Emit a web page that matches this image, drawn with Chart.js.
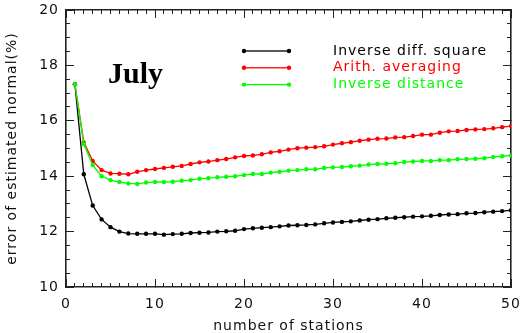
<!DOCTYPE html>
<html>
<head>
<meta charset="utf-8">
<script src="https://cdn.jsdelivr.net/npm/chart.js@4.4.1/dist/chart.umd.min.js"></script>
<style>
html, body { margin: 0; padding: 0; background: #fff; }
</style>
</head>
<body>
<canvas id="myChart" width="521" height="333"></canvas>
<script>
// number of stations used
var stations = [];
for (var n = 1; n <= 50; n++) stations.push(n);

// error of estimated normal (%)
var inverseDiffSquare = [17.32, 14.07, 12.94, 12.44, 12.16, 12.00, 11.93, 11.92, 11.92, 11.92,
  11.89, 11.91, 11.92, 11.95, 11.96, 11.97, 12.00, 12.01, 12.03, 12.09,
  12.12, 12.14, 12.16, 12.19, 12.22, 12.23, 12.24, 12.26, 12.30, 12.33,
  12.35, 12.37, 12.40, 12.43, 12.45, 12.48, 12.50, 12.52, 12.54, 12.55,
  12.57, 12.60, 12.62, 12.63, 12.66, 12.67, 12.70, 12.72, 12.74, 12.77];
var arithAveraging = [17.32, 15.22, 14.55, 14.22, 14.10, 14.09, 14.07, 14.16, 14.22, 14.26,
  14.30, 14.34, 14.37, 14.44, 14.50, 14.53, 14.58, 14.62, 14.68, 14.73,
  14.75, 14.79, 14.86, 14.90, 14.96, 15.01, 15.03, 15.05, 15.08, 15.14,
  15.19, 15.23, 15.28, 15.32, 15.35, 15.36, 15.40, 15.41, 15.45, 15.50,
  15.50, 15.57, 15.62, 15.63, 15.67, 15.69, 15.70, 15.73, 15.77, 15.81];
var inverseDistance = [17.32, 15.16, 14.40, 14.00, 13.86, 13.79, 13.74, 13.72, 13.77, 13.79,
  13.79, 13.80, 13.84, 13.86, 13.91, 13.93, 13.96, 13.98, 14.00, 14.04,
  14.08, 14.08, 14.13, 14.16, 14.20, 14.22, 14.25, 14.25, 14.30, 14.32,
  14.33, 14.36, 14.38, 14.42, 14.44, 14.45, 14.47, 14.51, 14.53, 14.55,
  14.55, 14.58, 14.58, 14.61, 14.62, 14.63, 14.65, 14.69, 14.72, 14.75];

var seriesLabels = ['Inverse diff. square', 'Arith. averaging', 'Inverse distance'];
var seriesColors = ['#000000', '#ff0000', '#00ff00'];
var xTicks = [0, 10, 20, 30, 40, 50];
var yTicks = [10, 12, 14, 16, 18, 20];
var monthLabel = 'July';

var textFont = 'DejaVu Sans';
var frameColor = '#222222';

function toPoints(values) {
  return stations.map(function (s, i) { return { x: s, y: values[i] }; });
}

var allSeries = [inverseDiffSquare, arithAveraging, inverseDistance];
var datasets = allSeries.map(function (vals, i) {
  return {
    label: seriesLabels[i],
    data: toPoints(vals),
    borderColor: seriesColors[i],
    backgroundColor: seriesColors[i],
    borderWidth: 1.3,
    pointRadius: 2.2,
    pointBorderWidth: 0,
    pointBackgroundColor: seriesColors[i],
    tension: 0,
    order: 2 - i
  };
});

// one side of the IDL style box: border line plus inward tick marks (negative tick length)
function sideAxis(axis, position, min, max, step, tickLen, showBorder, weight) {
  return {
    type: 'linear',
    axis: axis,
    position: position,
    min: min,
    max: max,
    weight: weight,
    afterBuildTicks: function (s) {
      var t = [];
      var count = Math.round((max - min) / step);
      for (var i = 0; i <= count; i++) t.push({ value: min + i * step });
      s.ticks = t;
    },
    afterFit: function (s) {
      if (axis === 'x') s.height = 0; else s.width = 0;
      s.paddingLeft = 0; s.paddingRight = 0; s.paddingTop = 0; s.paddingBottom = 0;
    },
    grid: { display: true, drawOnChartArea: false, drawTicks: true, tickLength: tickLen,
            tickColor: frameColor, tickWidth: 1 },
    border: { display: showBorder, color: frameColor, width: 1.6 },
    ticks: { display: false }
  };
}

var labelPlugin = {
  id: 'monthlegend',
  beforeDraw: function (chart) {
    chart.ctx.letterSpacing = '1px';
  },
  afterDraw: function (chart) {
    var ctx = chart.ctx;
    ctx.save();
    // month label
    ctx.letterSpacing = '0px';
    ctx.fillStyle = '#000';
    ctx.font = 'bold 30px "Liberation Serif"';
    ctx.textBaseline = 'alphabetic';
    ctx.textAlign = 'left';
    ctx.fillText(monthLabel, 108, 83);
    // legend
    ctx.letterSpacing = '1px';
    ctx.font = '14px "' + textFont + '"';
    ctx.textBaseline = 'middle';
    chart.data.datasets.forEach(function (ds, i) {
      var ly = 51 + i * 16.8;
      ctx.fillStyle = ds.borderColor;
      ctx.fillRect(244, ly - 0.65, 45, 1.3);
      [244, 289].forEach(function (cx) {
        ctx.beginPath();
        ctx.arc(cx, ly, 2.2, 0, Math.PI * 2);
        ctx.fill();
      });
      ctx.fillText(ds.label, 333, ly);
    });
    ctx.restore();
    ctx.letterSpacing = '0px';
  }
};

var tickFont = { family: textFont, size: 14 };

new Chart(document.getElementById('myChart'), {
  type: 'line',
  data: { datasets: datasets },
  options: {
    responsive: false,
    animation: false,
    devicePixelRatio: 1,
    layout: { padding: { top: 10, right: 10, left: 0, bottom: 0 } },
    plugins: { legend: { display: false }, tooltip: { enabled: false } },
    scales: {
      x: {
        type: 'linear',
        position: 'bottom',
        weight: 1,
        min: 0,
        max: 50,
        afterFit: function (s) { s.height = 46; s.paddingLeft = 0; s.paddingRight = 0; },
        afterBuildTicks: function (s) { s.ticks = xTicks.map(function (v) { return { value: v }; }); },
        grid: { display: true, drawOnChartArea: false, drawTicks: true, tickLength: -8,
                tickColor: frameColor, tickWidth: 1 },
        border: { display: true, color: frameColor, width: 1.6 },
        ticks: { color: '#111', font: tickFont, padding: 17, maxRotation: 0, autoSkip: false },
        title: { display: true, text: 'number of stations', color: '#111',
                 font: { family: textFont, size: 14, lineHeight: 1 }, padding: { top: 0, bottom: 0 } }
      },
      y: {
        type: 'linear',
        position: 'left',
        weight: 1,
        min: 10,
        max: 20,
        afterFit: function (s) { s.width = 66; s.paddingTop = 0; s.paddingBottom = 0; },
        afterBuildTicks: function (s) { s.ticks = yTicks.map(function (v) { return { value: v }; }); },
        grid: { display: true, drawOnChartArea: false, drawTicks: true, tickLength: -8,
                tickColor: frameColor, tickWidth: 1 },
        border: { display: true, color: frameColor, width: 1.6 },
        ticks: { color: '#111', font: tickFont, padding: 15, autoSkip: false },
        title: { display: true, text: 'error of estimated normal(%)', color: '#111',
                 font: { family: textFont, size: 14, lineHeight: 1 }, padding: { top: 5, bottom: 0 } }
      },
      xMinor: sideAxis('x', 'bottom', 0, 50, 1, -4, false, 0),
      xTop: sideAxis('x', 'top', 0, 50, 10, -8, true, 1),
      xTopMinor: sideAxis('x', 'top', 0, 50, 1, -4, false, 0),
      yMinor: sideAxis('y', 'left', 10, 20, 0.5, -4, false, 0),
      yRight: sideAxis('y', 'right', 10, 20, 2, -8, true, 1),
      yRightMinor: sideAxis('y', 'right', 10, 20, 0.5, -4, false, 0)
    }
  },
  plugins: [labelPlugin]
});
</script>
</body>
</html>
